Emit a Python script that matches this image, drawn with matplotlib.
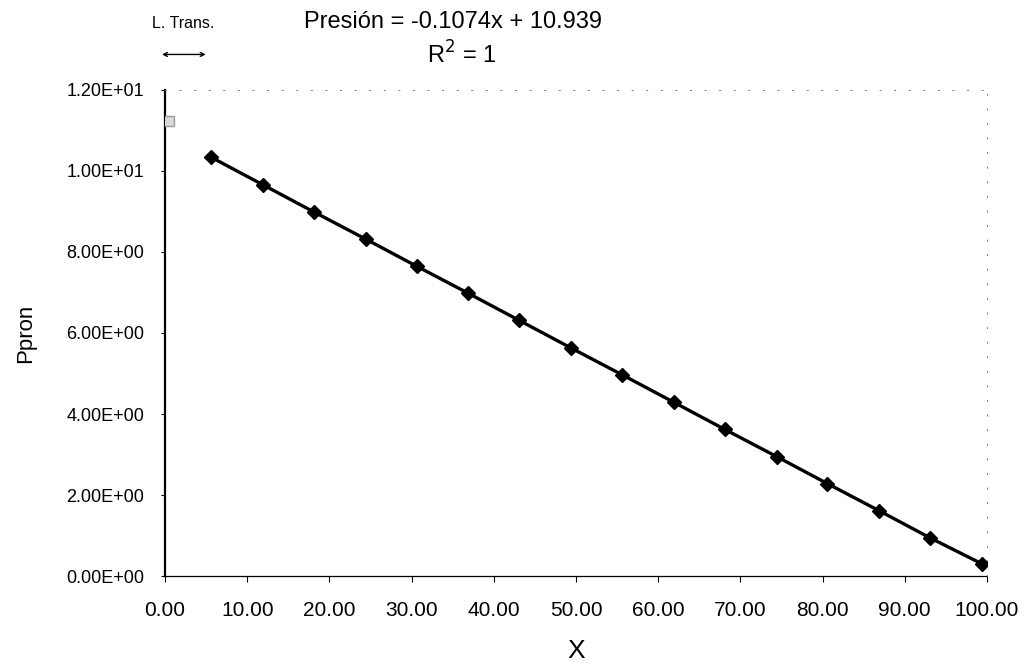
import matplotlib
matplotlib.use("Agg")
import matplotlib.pyplot as plt
from matplotlib.ticker import FixedLocator, FuncFormatter

# data
x_vals = [5.6, 11.9, 18.1, 24.4, 30.6, 36.9, 43.1, 49.4,
          55.6, 61.9, 68.1, 74.4, 80.6, 86.9, 93.1, 99.4]
p_pron = [10.34, 9.66, 8.99, 8.32, 7.65, 6.98, 6.31, 5.63,
          4.97, 4.29, 3.62, 2.95, 2.28, 1.61, 0.94, 0.30]
trans_x = [0.5]
trans_y = [11.23]

x_ticks = [0, 10, 20, 30, 40, 50, 60, 70, 80, 90, 100]
y_ticks = [0, 2, 4, 6, 8, 10, 12]

plt.rcParams["font.family"] = ["Liberation Sans", "DejaVu Sans"]

fig = plt.figure(figsize=(10.27, 6.64), dpi=100)
ax = fig.add_axes([0.1607, 0.1325, 0.8003, 0.732])

ax.plot(x_vals, p_pron, color="black", lw=2.4, marker="D", ms=7,
        mfc="black", mec="black", zorder=3)
ax.plot(trans_x, trans_y, linestyle="none", marker="s", ms=7,
        mfc="#d8d8d8", mec="#9a9a9a", mew=1, zorder=3)

ax.set_xlim(0, 100)
ax.set_ylim(0, 12)
ax.xaxis.set_major_locator(FixedLocator(x_ticks))
ax.yaxis.set_major_locator(FixedLocator(y_ticks))
ax.xaxis.set_major_formatter(FuncFormatter(lambda v, p: f"{v:.2f}"))
ax.yaxis.set_major_formatter(FuncFormatter(lambda v, p: f"{v:.2E}"))
ax.tick_params(axis="x", direction="out", length=4, width=0.8, pad=14,
               labelsize=15)
ax.tick_params(axis="y", direction="out", length=3, width=0.8, pad=12,
               labelsize=13)

# Excel-like plot area: solid left axis, thin bottom axis, dotted border
ax.spines["left"].set_linewidth(1.6)
ax.spines["bottom"].set_linewidth(0.9)
ax.spines["bottom"].set_linestyle((0, (6, 1)))
for s in ("top", "right"):
    ax.spines[s].set_linestyle((0, (1, 14)))
    ax.spines[s].set_color("#777777")
    ax.spines[s].set_linewidth(0.7)

ax.set_xlabel("X", fontsize=19, labelpad=14)
ax.set_ylabel("Ppron", fontsize=16, labelpad=22)

fig.text(0.441, 0.967, "Presión = -0.1074x + 10.939", fontsize=17,
         ha="center", va="center")
fig.text(0.450, 0.917, "R$^2$ = 1", fontsize=17, ha="center", va="center")
fig.text(0.178, 0.965, "L. Trans.", fontsize=11.5, ha="center", va="center")
ax.annotate("", xy=(0.155, 0.918), xytext=(0.203, 0.918),
            xycoords="figure fraction", textcoords="figure fraction",
            arrowprops=dict(arrowstyle="<->", color="black", lw=1,
                            mutation_scale=7))

fig.savefig("out.png", dpi=100)
